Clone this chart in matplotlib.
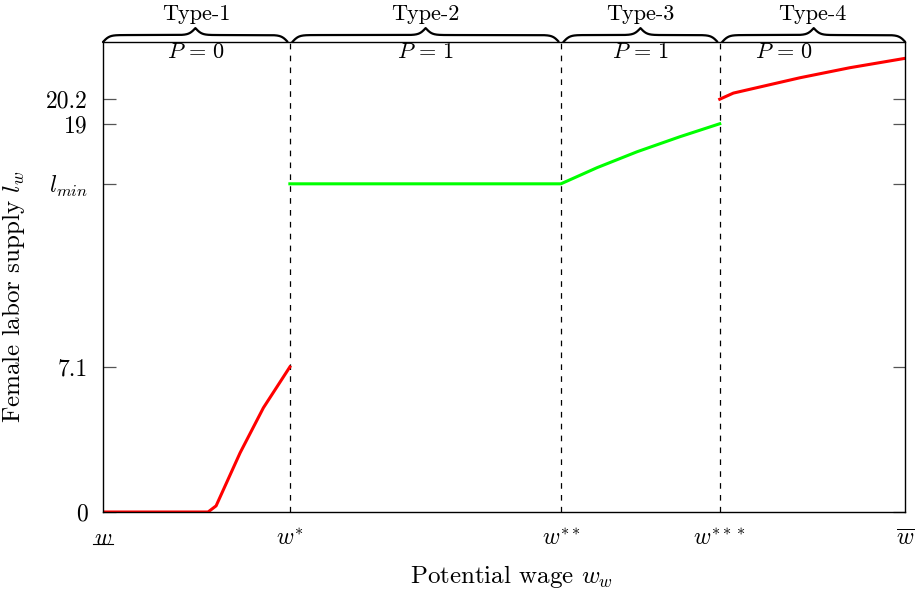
import numpy as np
import matplotlib
matplotlib.use("Agg")
import matplotlib.pyplot as plt
import matplotlib.transforms as mtransforms

plt.rcParams['font.family'] = 'serif'
plt.rcParams['font.serif'] = ['cmr10', 'DejaVu Serif']
plt.rcParams['mathtext.fontset'] = 'cm'
plt.rcParams['axes.unicode_minus'] = False
plt.rcParams['axes.formatter.use_mathtext'] = True

# thresholds on the wage axis (wbar scaled to 10)
w_low, w_star, w_2star, w_3star, w_bar = 0.0, 2.33, 5.71, 7.69, 10.0
x_ticks = [w_low, w_star, w_2star, w_3star, w_bar]
# first label gets an underline drawn by hand (mathtext has no \underline)
x_labels = [r'$w$', r'$w^{*}$', r'$w^{**}$', r'$w^{***}$', r'$\overline{w}$']

y_ticks = [0, 7.1, 16.06, 19, 20.2]
y_labels = ['0', '7.1', r'$l_{min}$', '19', '20.2']

# segment 1 (type-1, P=0)
x_seg1 = [0.0, 1.31, 1.41, 1.71, 2.0, 2.33]
y_seg1 = [0.0, 0.0, 0.3, 2.9, 5.1, 7.1]
# segment 2+3 (type-2/3, P=1)
x_seg2 = [2.33, 5.71, 6.16, 6.66, 7.19, 7.69]
y_seg2 = [16.06, 16.06, 16.85, 17.63, 18.36, 19.0]
# segment 4 (type-4, P=0)
x_seg4 = [7.69, 7.86, 8.69, 9.31, 10.0]
y_seg4 = [20.2, 20.5, 21.25, 21.74, 22.2]

types = ['Type-1', 'Type-2', 'Type-3', 'Type-4']
p_labels = [r'$P\,=\,0$', r'$P\,=\,1$', r'$P\,=\,1$', r'$P\,=\,0$']
p_xpos = [(w_low + w_star) / 2, (w_star + w_2star) / 2, (w_2star + w_3star) / 2, 8.49]

y_top = 23.0


def draw_brace(ax, x0, x1, ybase, height, beta=25.0):
    # curly brace opening downward, tip pointing up
    n = 600
    x = np.linspace(x0, x1, n)
    half = x[:n // 2 + 1]
    yh = (1 / (1 + np.exp(-beta * (half - half[0])))
          + 1 / (1 + np.exp(-beta * (half - half[-1]))))
    y = np.concatenate((yh, yh[-2::-1]))[:n]
    y = ybase + (y - 0.5) * height
    ax.plot(x, y, color='black', lw=1.6, clip_on=False, solid_capstyle='round')


fig = plt.figure(figsize=(9.17, 5.92), dpi=100)
ax = fig.add_axes([103 / 917, 80 / 592, 802 / 917, 470 / 592])

for xv in [w_star, w_2star, w_3star]:
    ax.plot([xv, xv], [0, y_top], color='black', lw=0.9, dashes=(4.5, 5))

ax.plot(x_seg1, y_seg1, color='#ff0000', lw=2.2)
ax.plot(x_seg2, y_seg2, color='#00ff00', lw=2.2)
ax.plot(x_seg4, y_seg4, color='#ff0000', lw=2.2)

ax.set_xlim(w_low, w_bar)
ax.set_ylim(0, y_top)

ax.set_xticks(x_ticks)
ax.set_xticklabels(x_labels, fontsize=17)
ax.tick_params(axis='x', length=0, pad=24)
for lab in ax.get_xticklabels():
    lab.set_va('baseline')

# underline for the lower bound label
trans = mtransforms.blended_transform_factory(ax.transData, ax.transAxes)
ax.plot([-0.12, 0.12], [-0.068, -0.068], color='black', lw=0.8,
        transform=trans, clip_on=False)

ax.set_yticks(y_ticks)
ax.set_yticklabels(y_labels, fontsize=17)
ax.tick_params(axis='y', direction='in', length=9, width=0.9, color='#555555',
               right=True, pad=11)

for sp in ax.spines.values():
    sp.set_linewidth(1.0)

ax.set_xlabel(r'Potential wage $w_w$', fontsize=18)
ax.xaxis.set_label_coords(0.509, -0.138)
ax.xaxis.label.set_va('center')
ax.set_ylabel(r'Female labor supply $l_w$', fontsize=18)
ax.yaxis.set_label_coords(-0.112, 0.457)
ax.yaxis.label.set_va('center')

bounds = [w_low, w_star, w_2star, w_3star, w_bar]
gap = 0.03
brace_h = 0.68
for i in range(4):
    a = bounds[i] + (0 if i == 0 else gap)
    b = bounds[i + 1] - (0 if i == 3 else gap)
    draw_brace(ax, a, b, y_top, brace_h)
    ax.text((bounds[i] + bounds[i + 1]) / 2, y_top + 1.37, types[i],
            ha='center', va='center', fontsize=16)
    ax.text(p_xpos[i], y_top - 0.52, p_labels[i], ha='center', va='center',
            fontsize=16)

fig.savefig('out.png', dpi=100)
